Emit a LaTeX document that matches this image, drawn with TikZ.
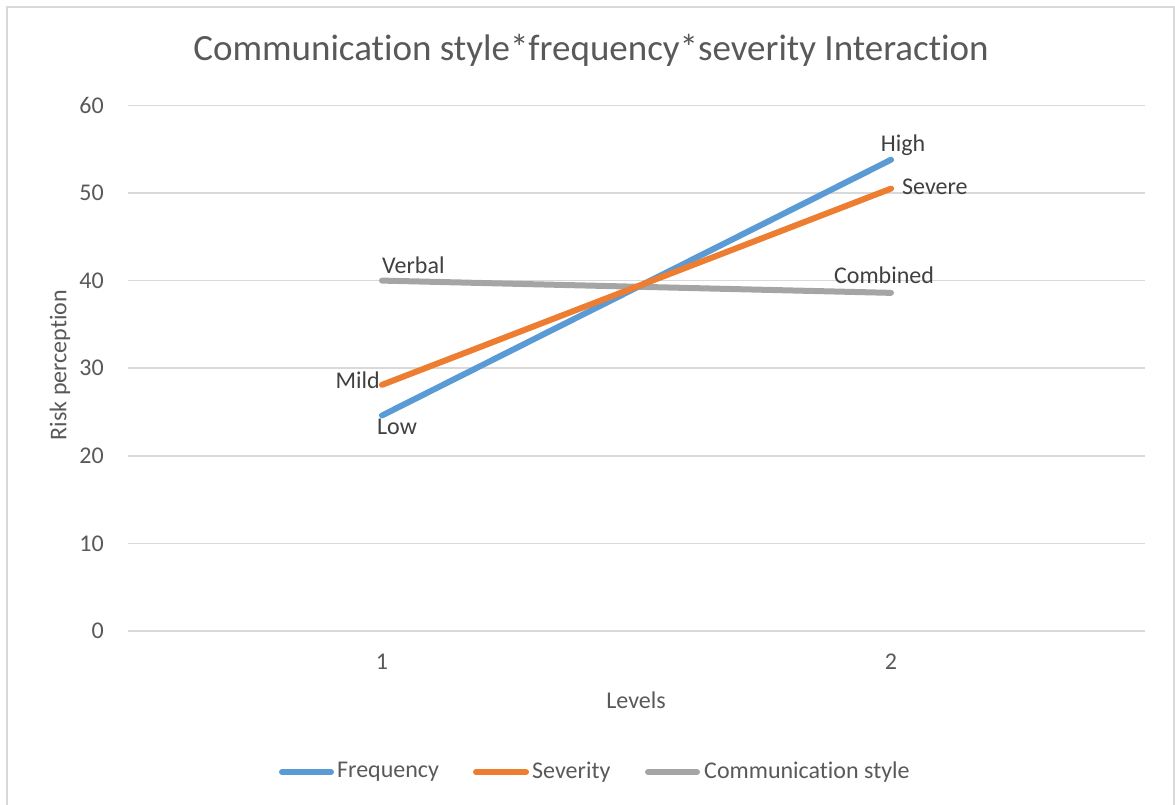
\documentclass[tikz,border=0pt]{standalone}
\usepackage{fontspec}
\setmainfont{Carlito}[Ligatures={NoCommon,NoContextual},RawFeature={-liga;-clig;-calt;-dlig}]
\definecolor{txt}{HTML}{595959}
\definecolor{lbl}{HTML}{404040}
\definecolor{grid}{HTML}{D9D9D9}
\definecolor{sFreq}{HTML}{5B9BD5}
\definecolor{sSev}{HTML}{ED7D31}
\definecolor{sCom}{HTML}{A5A5A5}
\begin{document}
\begin{tikzpicture}[x=1pt,y=-1pt,
  gridline/.style={draw=grid,line width=1.5pt},
  series/.style={line width=6pt,line cap=round},
  ticklbl/.style={text=txt,font=\fontsize{24}{28}\selectfont,inner sep=0pt},
  datalbl/.style={text=lbl,font=\fontsize{24}{28}\selectfont,inner sep=0pt},
  legtxt/.style={text=txt,font=\fontsize{24}{28}\selectfont,inner sep=0pt,anchor=west}]
\useasboundingbox (0,0) rectangle (1175,805);
% chart frame (bottom edge lies outside the page)
\draw[grid,line width=1.5pt] (7,7) rectangle (1174,830);
% title
\node[text=txt,font=\fontsize{37}{44}\selectfont,inner sep=0pt] (title) at (591,50) {Communication style*frequency*severity Interaction};
% horizontal gridlines and value labels
\foreach \v in {0,10,...,60}{
  \coordinate (gl\v) at (128,{631-8.76*\v});
  \coordinate (gr\v) at (1145,{631-8.76*\v});
  \draw[gridline] (gl\v) -- (gr\v);
  \node[ticklbl,anchor=east] (yt\v) at (104,{631-8.76*\v}) {\v};
}
% category labels
\node[ticklbl] (xt1) at (382,662) {1};
\node[ticklbl] (xt2) at (891,662) {2};
% axis titles
\node[ticklbl] (xtitle) at (636,700) {Levels};
\node[ticklbl,rotate=90] (ytitle) at (60,365) {Risk perception};
% series end points
\coordinate (f1) at (382,{631-8.76*24.6});
\coordinate (f2) at (891,{631-8.76*53.8});
\coordinate (s1) at (382,{631-8.76*28.1});
\coordinate (s2) at (891,{631-8.76*50.5});
\coordinate (c1) at (382,{631-8.76*40.0});
\coordinate (c2) at (891,{631-8.76*38.6});
% series lines
\draw[series,draw=sCom] (c1) -- (c2);
\draw[series,draw=sFreq] (f1) -- (f2);
\draw[series,draw=sSev] (s1) -- (s2);
% data labels
\node[datalbl] (lHigh) at (903,145) {High};
\node[datalbl,anchor=west] (lSevere) at (902,187) {Severe};
\node[datalbl,anchor=west] (lVerbal) at (382,265) {Verbal};
\node[datalbl] (lComb) at (884,275) {Combined};
\node[datalbl,anchor=east] (lMild) at (380,380) {Mild};
\node[datalbl] (lLow) at (397,427) {Low};
% legend
\coordinate (k1a) at (282,772); \coordinate (k1b) at (331,772);
\coordinate (k2a) at (476,772); \coordinate (k2b) at (526,772);
\coordinate (k3a) at (648,772); \coordinate (k3b) at (697,772);
\draw[series,draw=sFreq] (k1a) -- (k1b);
\draw[series,draw=sSev] (k2a) -- (k2b);
\draw[series,draw=sCom] (k3a) -- (k3b);
\node[legtxt] (t1) at (337,772) {Frequency};
\node[legtxt] (t2) at (532,772) {Severity};
\node[legtxt] (t3) at (704,772) {Communication style};
\end{tikzpicture}
\end{document}
